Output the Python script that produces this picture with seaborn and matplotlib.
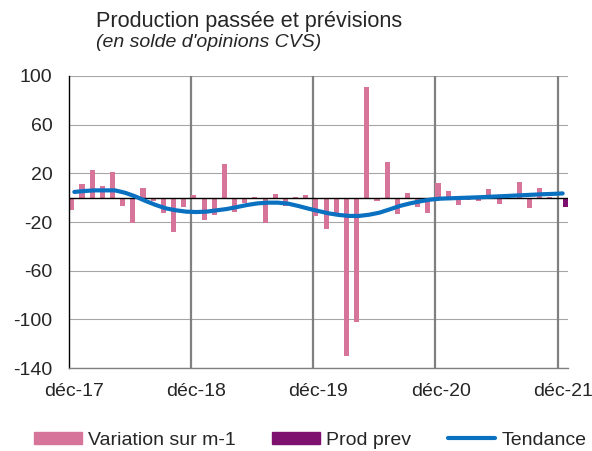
import numpy as np
import pandas as pd
import matplotlib
matplotlib.use("Agg")
import matplotlib.pyplot as plt
import seaborn as sns
from matplotlib.patches import Patch
from matplotlib.lines import Line2D

# --- data ---
mois = list(pd.date_range("2017-12-01", periods=49, freq="MS").strftime("%Y-%m"))

variation = [
    -10, 11, 22.5, 10, 21.5, -6.5, -20.5, 8, -2.7, -13, -28.5, -7.4,
    2, -18.6, -14.2, 27.7, -11.5, -4.1, 0.8, -20.5, 3.3, -7, 0.5, 2.2,
    -15, -26, -12.3, -130, -102, 91, -2.7, 29.3, -13.7, 3.8, -7.7, -12.3,
    12.3, 5.2, -5.8, -1.9, -2.7, 6.8, -4.9, -1.4, 12.9, -8.5, 7.9, 0.5,
    np.nan,
]
prod_prev = [np.nan] * 48 + [-7.7]

tendance = [
    4.7, 5.5, 6, 6, 6, 4, 1, -2.7, -6, -8.8, -10.4, -11.5,
    -11.8, -11.5, -10.4, -9.3, -7.7, -6, -4.7, -4.1, -4.1, -4.9, -6.8, -9,
    -11, -12.9, -14.2, -15, -15, -14, -12.3, -9.6, -6.8, -4.7, -3, -1.6,
    -0.8, -0.5, -0.2, 0.1, 0.4, 0.8, 1.2, 1.6, 2.0, 2.4, 2.8, 3.1,
    3.5,
]

tick_pos = [0, 12, 24, 36, 48]
tick_labels = ["déc-17", "déc-18", "déc-19", "déc-20", "déc-21"]

ROSE = "#D6749A"
VIOLET = "#7E1170"
BLEU = "#0A70C0"

sns.set_style("white")
plt.rcParams["font.family"] = ["Liberation Sans", "DejaVu Sans"]
plt.rcParams["axes.unicode_minus"] = False

bars = pd.DataFrame({
    "mois": mois * 2,
    "serie": ["Variation sur m-1"] * len(mois) + ["Prod prev"] * len(mois),
    "valeur": variation + prod_prev,
})

fig, ax = plt.subplots(figsize=(5.92, 4.51), dpi=100)
fig.subplots_adjust(left=0.117, right=0.959, top=0.8315, bottom=0.184)

sns.barplot(
    data=bars, x="mois", y="valeur", hue="serie",
    hue_order=["Variation sur m-1", "Prod prev"],
    palette=[ROSE, VIOLET], width=1.0, saturation=1,
    errorbar=None, legend=False, linewidth=0, zorder=2, ax=ax,
)
sns.lineplot(x=np.arange(len(tendance)), y=tendance, color=BLEU,
             linewidth=3, zorder=4, ax=ax)

ax.set_xlim(-0.5, 48.5)
ax.set_ylim(-140, 100)
ax.set_yticks(range(-140, 101, 40))
ax.set_xticks(tick_pos, tick_labels)
ax.set_xlabel("")
ax.set_ylabel("")

ax.yaxis.grid(True, color="#A6A6A6", linewidth=0.8)
ax.set_axisbelow(True)
for x in [11.5, 23.5, 35.5, 47.5]:
    ax.axvline(x, color="#808080", linewidth=1.6, zorder=1)
ax.axhline(0, color="black", linewidth=1, zorder=3)

for side in ["top", "right"]:
    ax.spines[side].set_visible(False)
ax.spines["left"].set_color("black")
ax.spines["left"].set_linewidth(1)
ax.spines["bottom"].set_color("#808080")
ax.spines["bottom"].set_linewidth(1)

ax.tick_params(axis="y", length=0, labelsize=14, pad=12)
ax.tick_params(axis="x", length=0, labelsize=14, pad=11)

fig.text(96 / 592, 1 - 27 / 451, "Production passée et prévisions",
         fontsize=15.6, va="baseline", ha="left")
fig.text(96 / 592, 1 - 47 / 451, "(en solde d'opinions CVS)",
         fontsize=14, style="italic", va="baseline", ha="left")

handles = [
    Patch(color=ROSE, label="Variation sur m-1"),
    Patch(color=VIOLET, label="Prod prev"),
    Line2D([], [], color=BLEU, linewidth=3, label="Tendance"),
]
fig.legend(handles=handles, loc="center", bbox_to_anchor=(0.524, 0.024),
           ncol=3, frameon=False, fontsize=14, handlelength=2.45,
           handleheight=0.57, handletextpad=0.3, columnspacing=1.9)

fig.savefig("out.png", dpi=100)
plt.close(fig)
